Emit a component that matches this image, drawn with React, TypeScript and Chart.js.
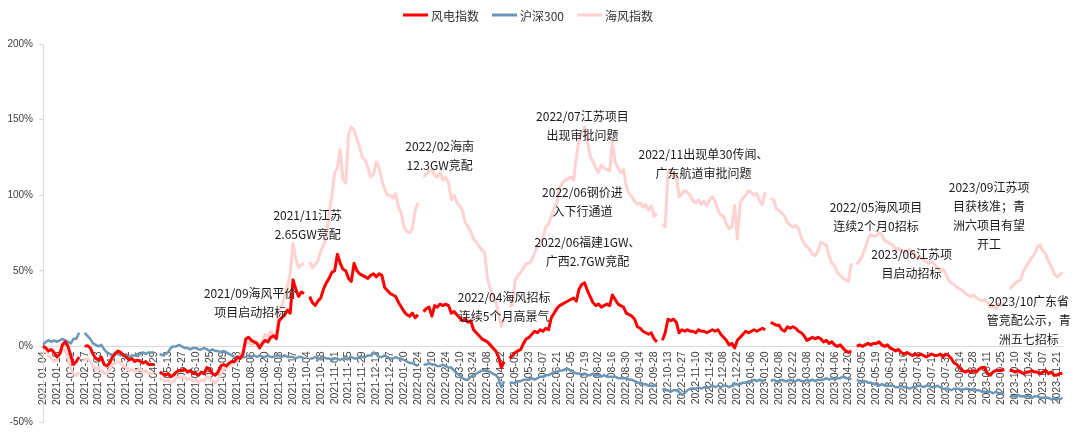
import React, { useEffect, useRef } from 'react';
import { Chart, registerables } from 'chart.js';

Chart.register(...registerables);

// ---------- DATA ----------
// x-axis tick labels (one every 10 trading days)
const tickLabels: string[] = [
  '2021-01-04','2021-01-18','2021-02-01','2021-02-17','2021-03-03','2021-03-17','2021-03-31','2021-04-15','2021-04-29','2021-05-13',
  '2021-05-27','2021-06-10','2021-06-25','2021-07-09','2021-07-23','2021-08-06','2021-08-20','2021-09-03','2021-09-17','2021-10-04',
  '2021-10-18','2021-11-01','2021-11-15','2021-11-29','2021-12-13','2021-12-27','2022-01-10','2022-01-24','2022-02-10','2022-02-24',
  '2022-03-10','2022-03-24','2022-04-08','2022-04-22','2022-05-09','2022-05-23','2022-06-07','2022-06-21','2022-07-05','2022-07-19',
  '2022-08-02','2022-08-16','2022-08-30','2022-09-14','2022-09-28','2022-10-13','2022-10-27','2022-11-10','2022-11-24','2022-12-08',
  '2022-12-22','2023-01-06','2023-01-20','2023-02-08','2023-02-22','2023-03-08','2023-03-22','2023-04-06','2023-04-20','2023-05-05',
  '2023-05-19','2023-06-02','2023-06-16','2023-07-03','2023-07-17','2023-07-31','2023-08-14','2023-08-28','2023-09-11','2023-09-25',
  '2023-10-10','2023-10-24','2023-11-07','2023-11-21',
];
// one sample every 2 trading days -> 5 samples per tick label
const samplesPerTick = 5;

const seriesNames = ['风电指数', '沪深300', '海风指数'];

// 风电指数 (cumulative %, sampled every 2 trading days; null = holiday gap)
const windIndex: (number | null)[] = [
  0, -1, -3, -2, -4,  -7, -5, 1, 3, 0,  -6, -12, -10, -7, null,  0, 0.5, -1, -5, -8,
  -9, -7, -12, -13, -11,  -7, -5, -3, -4, -6,  -7, -9, -8, -10, -9,  -10, -11, -10, -12, -12,
  -12, null, -17, -18, -19,  -18, -20, -19, -17, -16,  -16, -15, -17, -16, -18,  -18, -19, -17, -18, -14,
  -15, -18, -19, -17, -13,  -12, -13, -11, -10, -10,  -7, -8, -5, 5, 6,  4, 3, 2, -1, 2,
  4, 3, 6, 7, 5,  17, 19, 21, 24, 22,  44, 38, 33, 36, 35,  null, 33, 29, 27, 30,
  32, 38, 42, 45, 49,  50, 61, 55, 51, 50,  45, 43, 55, 50, 48,  47, 46, 45, 47, 48,
  46, 48, 47, 39, 37,  35, 34, 33, 29, 26,  23, 21, 20, 22, 19,  21, null, 23, 25, 26,
  20, 27, 26, 28, 27,  28, 27, 22, 23, 21,  19, 17, 18, 16, 17,  11, 9, 7, 5, 4,
  3, 1, -1, -3, -7,  -14, -10, null, -8, -6,  -4, -3, -2, 2, 5,  6, 8, 10, 9, 11,
  10, 12, 11, 19, 22,  25, 27, 28, 29, 30,  31, 32, 30, 38, 41,  42, 37, 33, 29, 27,
  28, 26, 27, 28, 27,  34, 31, 28, 27, 26,  22, 21, 20, 18, 13,  12, 10, 9, 8, 9,
  5, 3, null, 4, 9,  18, 17, 18, 16, 9,  11, 10, 11, 10, 10,  9, 11, 10, 10, 9,
  10, 11, 10, 11, 8,  6, 4, 1, 2, -1,  4, 6, 8, 10, 9,  10, 11, 10, 11, 12,
  11, null, 16, 15, 14,  14, 11, 10, 13, 12,  13, 12, 10, 9, 7,  4, 5, 6, 5, 6,
  5, 3, 4, 2, 3,  1, 0, 1, -1, -3,  -4, -3, null, 0, 1,  0, 1, 2, 1, 2,
  2, 3, 1, 0, 1,  -1, -2, -3, -2, -4,  -5, -4, -5, -6, -5,  -6, -5, -6, -7, -6,
  -5, -6, -6, -5, -7,  -5, -6, -8, -11, -12,  -14, -16, -17, -16, -17,  -16, -17, -15, -14, -14,
  -18, -19, -17, -16, -16,  -16, -15, null, -16, -16,  -17, -16, -17, -18, -17,  -17, -16, -17, -17, -18,
  -17, -16, -18, -17, -19,  -19, -18, -18,
];

// 沪深300
const hs300: (number | null)[] = [
  1, 3, 4, 3, 4,  3, 4, 5, 4, 3,  2, 5, 5, 9, null,  9, 7, 5, 2, 1,
  0, 1, -2, -4, -5,  -6, -4, -5, -6, -5,  -6, -7, -6, -6, -5,  -5, -4, -5, -4, -4,
  -4, null, -5, -6, -5,  -4, -1, 0, 0, 1,  0, -1, -1, -2, -1,  -1, -2, -2, -1, -2,
  -3, -2, -3, -3, -4,  -3, -4, -5, -6, -7,  -7, -8, -7, -7, -6,  -7, -6, -7, -6, -7,
  -7, -6, -7, -7, -6,  -6, -7, -6, -7, -7,  -7, -8, -7, -7, -8,  null, -8, -8, -7, -8,
  -8, -7, -8, -8, -9,  -8, -8, -9, -8, -8,  -8, -7, -8, -8, -7,  -7, -7, -6, -6, -4,
  -5, -7, -7, -6, -7,  -8, -8, -7, -8, -8,  -9, -10, -11, -11, -12,  -13, null, -12, -12, -11,
  -12, -12, -13, -13, -12,  -13, -14, -14, -16, -18,  -19, -21, -22, -22, -20,  -19, -18, -17, -16, -16,
  -16, -17, -18, -19, -21,  -27, -23, null, -24, -24,  -24, -23, -23, -22, -22,  -22, -21, -22, -21, -20,
  -20, -19, -19, -18, -17,  -17, -16, -16, -15, -15,  -16, -17, -18, -18, -19,  -18, -19, -19, -18, -19,
  -19, -20, -19, -20, -20,  -20, -20, -21, -21, -21,  -21, -22, -22, -23, -24,  -24, -25, -25, -26, -26,
  -26, -25, null, -28, -29,  -29, -30, -29, -29, -30,  -32, -31, -29, -28, -28,  -28, -27, -28, -27, -27,
  -27, -26, -27, -26, -27,  -26, -26, -27, -26, -25,  -25, -25, -24, -24, -23,  -23, -22, -23, -22, -23,
  -22, null, -23, -22, -23,  -23, -22, -23, -23, -22,  -23, -23, -22, -23, -23,  -22, -23, -22, -23, -22,
  -22, -22, -21, -22, -21,  -22, -21, -21, -20, -21,  -21, -22, null, -22, -23,  -23, -23, -24, -24, -25,
  -25, -26, -25, -26, -26,  -26, -26, -27, -27, -26,  -27, -27, -28, -27, -27,  -26, -26, -27, -26, -26,
  -27, -27, -26, -27, -28,  -28, -28, -29, -28, -28,  -28, -29, -28, -28, -29,  -28, -29, -29, -30, -30,
  -30, -30, -31, -30, -31,  -31, -32, null, -33, -33,  -33, -32, -33, -33, -33,  -33, -34, -33, -33, -34,
  -34, -34, -34, -35, -34,  -35, -35, -34,
];

// 海风指数
const offshoreWind: (number | null)[] = [
  0, -2, -6, -8, -10,  -9, -5, -3, -2, -8,  -15, -18, -19, -17, null,  -9, -8, -10, -13, -15,
  -14, -16, -18, -18, -15,  -12, -11, -10, -11, -13,  -14, -16, -15, -17, -16,  -15, -17, -16, -18, -18,
  -18, null, -21, -22, -23,  -22, -24, -23, -21, -20,  -21, -20, -22, -21, -23,  -22, -24, -22, -23, -20,
  -21, -23, -24, -22, -18,  -15, -14, -13, -12, -11,  -9, -6, -3, 2, 3,  1, 2, 3, -1, 4,
  8, 6, 10, 7, 9,  24, 27, 33, 40, 48,  68, 58, 52, 54, 55,  null, 56, 52, 54, 57,
  63, 67, 72, 88, 100,  115, 118, 130, 110, 108,  140, 145, 143, 137, 132,  125, 123, 118, 112, 114,
  122, 118, 110, 104, 100,  100, 98, 101, 92, 88,  79, 76, 75, 78, 90,  95, null, 112, 114, 116,
  117, 113, 112, 115, 110,  112, 108, 97, 100, 95,  93, 90, 82, 79, 76,  71, 69, 66, 64, 62,
  45, 38, 33, 30, 22,  13, 18, null, 26, 28,  44, 47, 49, 52, 55,  55, 57, 62, 66, 68,
  72, 79, 81, 86, 91,  95, 105, 108, 110, 111,  112, 110, 125, 137, 141,  145, 135, 126, 122, 118,
  115, 120, 118, 117, 116,  135, 122, 118, 115, 117,  106, 101, 99, 96, 94,  95, 92, 94, 90, 93,
  86, 88, null, 81, 79,  115, 117, 112, 113, 99,  101, 103, 102, 100, 96,  95, 97, 94, 96, 93,
  97, 99, 96, 90, 87,  86, 81, 78, 79, 93,  71, 95, 98, 100, 103,  102, 100, 101, 96, 94,
  102, null, 98, 97, 91,  90, 88, 86, 82, 80,  79, 80, 78, 72, 68,  66, 64, 61, 60, 63,
  69, 68, 67, 60, 55,  53, 49, 47, 45, 44,  43, 55, null, 54, 57,  60, 65, 71, 74, 73,
  73, 75, 74, 70, 69,  68, 67, 64, 65, 63,  62, 63, 64, 62, 60,  58, 59, 57, 56, 55,
  56, 54, 52, 50, 51,  48, 44, 42, 41, 39,  38, 37, 35, 34, 33,  34, 32, 31, 30, 31,
  29, 26, 27, 25, 28,  27, 29, null, 38, 40,  42, 43, 44, 50, 53,  56, 59, 61, 66, 67,
  63, 61, 56, 53, 48,  46, 47, 49,
];

// y axis range (percent)
const yMin = -50;
const yMax = 200;
const yStep = 50;

// event annotations: anchored at (sample index, value %) = centre of first line
const annotations: { at: number; value: number; lines: string[] }[] = [
  { at: 74.6, value: 35, lines: ['2021/09海风平价', '项目启动招标'] },
  { at: 95.3, value: 86.5, lines: ['2021/11江苏', '2.65GW竞配'] },
  { at: 142.8, value: 132, lines: ['2022/02海南', '12.3GW竞配'] },
  { at: 194.2, value: 152, lines: ['2022/07江苏项目', '出现审批问题'] },
  { at: 194.2, value: 102, lines: ['2022/06钢价进', '入下行通道'] },
  { at: 196, value: 68.7, lines: ['2022/06福建1GW、', '广西2.7GW竞配'] },
  { at: 166, value: 32.4, lines: ['2022/04海风招标', '连续5个月高景气'] },
  { at: 237.8, value: 126.8, lines: ['2022/11出现单30传闻、', '广东航道审批问题'] },
  { at: 299.9, value: 91.8, lines: ['2022/05海风项目', '连续2个月0招标'] },
  { at: 312.7, value: 60.8, lines: ['2023/06江苏项', '目启动招标'] },
  { at: 340.6, value: 105, lines: ['2023/09江苏项', '目获核准；青', '洲六项目有望', '开工'] },
  { at: 354.9, value: 29.7, lines: ['2023/10广东省', '管竞配公示，青', '洲五七招标'] },
];

// ---------- STYLE ----------
const colors = ['#FF0000', '#6A97B8', '#FFD1D1'];
const CJK = '"Noto Sans CJK SC", "Noto Sans", sans-serif';

const categories: string[] = windIndex.map((_, i) =>
  i % samplesPerTick === 0 && tickLabels[i / samplesPerTick] ? tickLabels[i / samplesPerTick] : ''
);

const overlayPlugin = {
  id: 'overlayText',
  afterDraw(chart: any) {
    const ctx: CanvasRenderingContext2D = chart.ctx;
    const xs = chart.scales.x;
    const ys = chart.scales.y;
    ctx.save();
    // legend
    ctx.font = `12px ${CJK}`;
    ctx.textBaseline = 'middle';
    const lineLen = 25;
    const gapText = 3;
    const gapItem = 13;
    const items = chart.data.datasets.map((ds: any) => ({
      label: ds.label as string,
      color: ds.borderColor as string,
      w: ctx.measureText(ds.label).width,
    }));
    const total =
      items.reduce((s: number, it: any) => s + lineLen + gapText + it.w, 0) + gapItem * (items.length - 1);
    let x = 528 - total / 2;
    const y = 15;
    for (const it of items) {
      ctx.strokeStyle = it.color;
      ctx.lineWidth = 3;
      ctx.beginPath();
      ctx.moveTo(x, y);
      ctx.lineTo(x + lineLen, y);
      ctx.stroke();
      x += lineLen + gapText;
      ctx.fillStyle = '#333333';
      ctx.textAlign = 'left';
      ctx.fillText(it.label, x, y + 1);
      x += it.w + gapItem;
    }
    // annotations
    ctx.font = `12px ${CJK}`;
    ctx.textAlign = 'center';
    ctx.fillStyle = '#1a1a1a';
    for (const a of annotations) {
      const px = xs.getPixelForValue(a.at);
      const py = ys.getPixelForValue(a.value);
      a.lines.forEach((ln, i) => ctx.fillText(ln, px, py + i * 19));
    }
    ctx.restore();
  },
};

export default function App() {
  const ref = useRef<HTMLCanvasElement | null>(null);

  useEffect(() => {
    if (!ref.current) return;
    const series = [windIndex, hs300, offshoreWind];
    const chart = new Chart(ref.current, {
      type: 'line',
      data: {
        labels: categories,
        datasets: series.map((d, i) => ({
          label: seriesNames[i],
          data: d,
          borderColor: colors[i],
          backgroundColor: colors[i],
          borderWidth: i === 1 ? 2.5 : 3,
          pointRadius: 0,
          pointHoverRadius: 0,
          tension: 0,
          spanGaps: false,
          borderJoinStyle: 'round' as const,
        })),
      },
      options: {
        responsive: false,
        devicePixelRatio: 1,
        animation: false,
        events: [],
        layout: { padding: { left: 0, right: 9, top: 44, bottom: 11 } },
        plugins: {
          legend: { display: false },
          tooltip: { enabled: false },
        },
        scales: {
          x: {
            type: 'category',
            position: { y: 0 } as any,
            offset: false,
            grid: { display: false, drawTicks: false },
            border: { display: true, color: '#d9d9d9', width: 1 },
            ticks: {
              autoSkip: false,
              minRotation: 90,
              maxRotation: 90,
              padding: 5,
              color: '#404040',
              font: { family: '"Liberation Sans", Arial, sans-serif', size: 10.5 },
              callback: (_v: any, idx: number) => categories[idx] || '',
            },
          },
          y: {
            min: yMin,
            max: yMax,
            grid: { display: true, drawOnChartArea: false, drawTicks: true, tickLength: 4, color: '#d9d9d9' },
            border: { display: true, color: '#d9d9d9', width: 1 },
            ticks: {
              stepSize: yStep,
              padding: 6,
              color: '#404040',
              font: { family: '"Liberation Sans", Arial, sans-serif', size: 10 },
              callback: (v: any) => `${v}%`,
            },
            afterFit: (scale: any) => {
              scale.width = 43;
            },
          },
        },
      },
      plugins: [overlayPlugin],
    });
    return () => chart.destroy();
  }, []);

  return (
    <div style={{ position: 'fixed', left: 0, top: 0, width: 1080, height: 434, background: '#ffffff' }}>
      <canvas ref={ref} width={1080} height={434} style={{ display: 'block', width: 1080, height: 434 }} />
    </div>
  );
}
